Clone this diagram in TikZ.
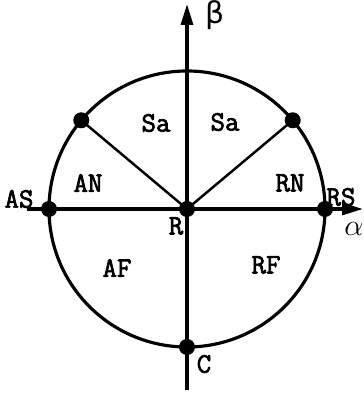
\documentclass[tikz,border=0pt]{standalone}
\usepackage{fontspec}
\newfontfamily\grk{DejaVu Sans}
\newfontfamily\lbltt{Latin Modern Mono}[FakeBold=2.5]
\usepackage{tikz}
\usetikzlibrary{arrows.meta}

\tikzset{
  dot/.style={circle,fill,inner sep=0pt,minimum size=0.32cm},
  lbl/.style={font=\fontsize{16}{18}\selectfont\lbltt\bfseries,inner sep=0pt},
  axis/.style={line width=1.8pt,-{Triangle[length=0.42cm,width=0.24cm]}}
}

\begin{document}
\begin{tikzpicture}
  \useasboundingbox (-3.74,-3.74) rectangle (3.52,4.18);
  \coordinate (Lx) at (-3.2,0); \coordinate (Rx) at (3.52,0);
  \coordinate (By) at (0,-3.62); \coordinate (Ty) at (0,4.10);
  \draw[line width=1.8pt] (0,0) circle (2.76);
  \node[dot] (R) at (0,0) {}; \node[dot] (AS) at (180:2.76) {}; \node[dot] (RS) at (0:2.76) {};
  \node[dot] (C) at (270:2.76) {}; \node[dot] (P) at (140:2.76) {}; \node[dot] (Q) at (40:2.76) {};
  \draw[axis] (Lx)--(Rx); \draw[axis] (By)--(Ty);
  \draw[line width=1.4pt] (R.center)--(P.center); \draw[line width=1.4pt] (R.center)--(Q.center);
  % labels
  \node[lbl] at (0.56,3.88) {\grk\mdseries\fontsize{17}{20}\selectfont β}; \node[lbl] at (3.34,-0.4) {\fontsize{16}{18}\selectfont$\alpha$};
  \node[lbl] at (-3.36,0.2) {AS}; \node[lbl] at (3.08,0.24) {RS};
  \node[lbl] at (-0.22,-0.34) {R}; \node[lbl] at (0.34,-3.1) {C};
  \node[lbl] at (-0.62,1.72) {Sa}; \node[lbl] at (0.76,1.74) {Sa};
  \node[lbl] at (-1.98,0.52) {AN}; \node[lbl] at (2.06,0.52) {RN};
  \node[lbl] at (-1.4,-1.18) {AF}; \node[lbl] at (1.58,-1.12) {RF};
\end{tikzpicture}
\end{document}
